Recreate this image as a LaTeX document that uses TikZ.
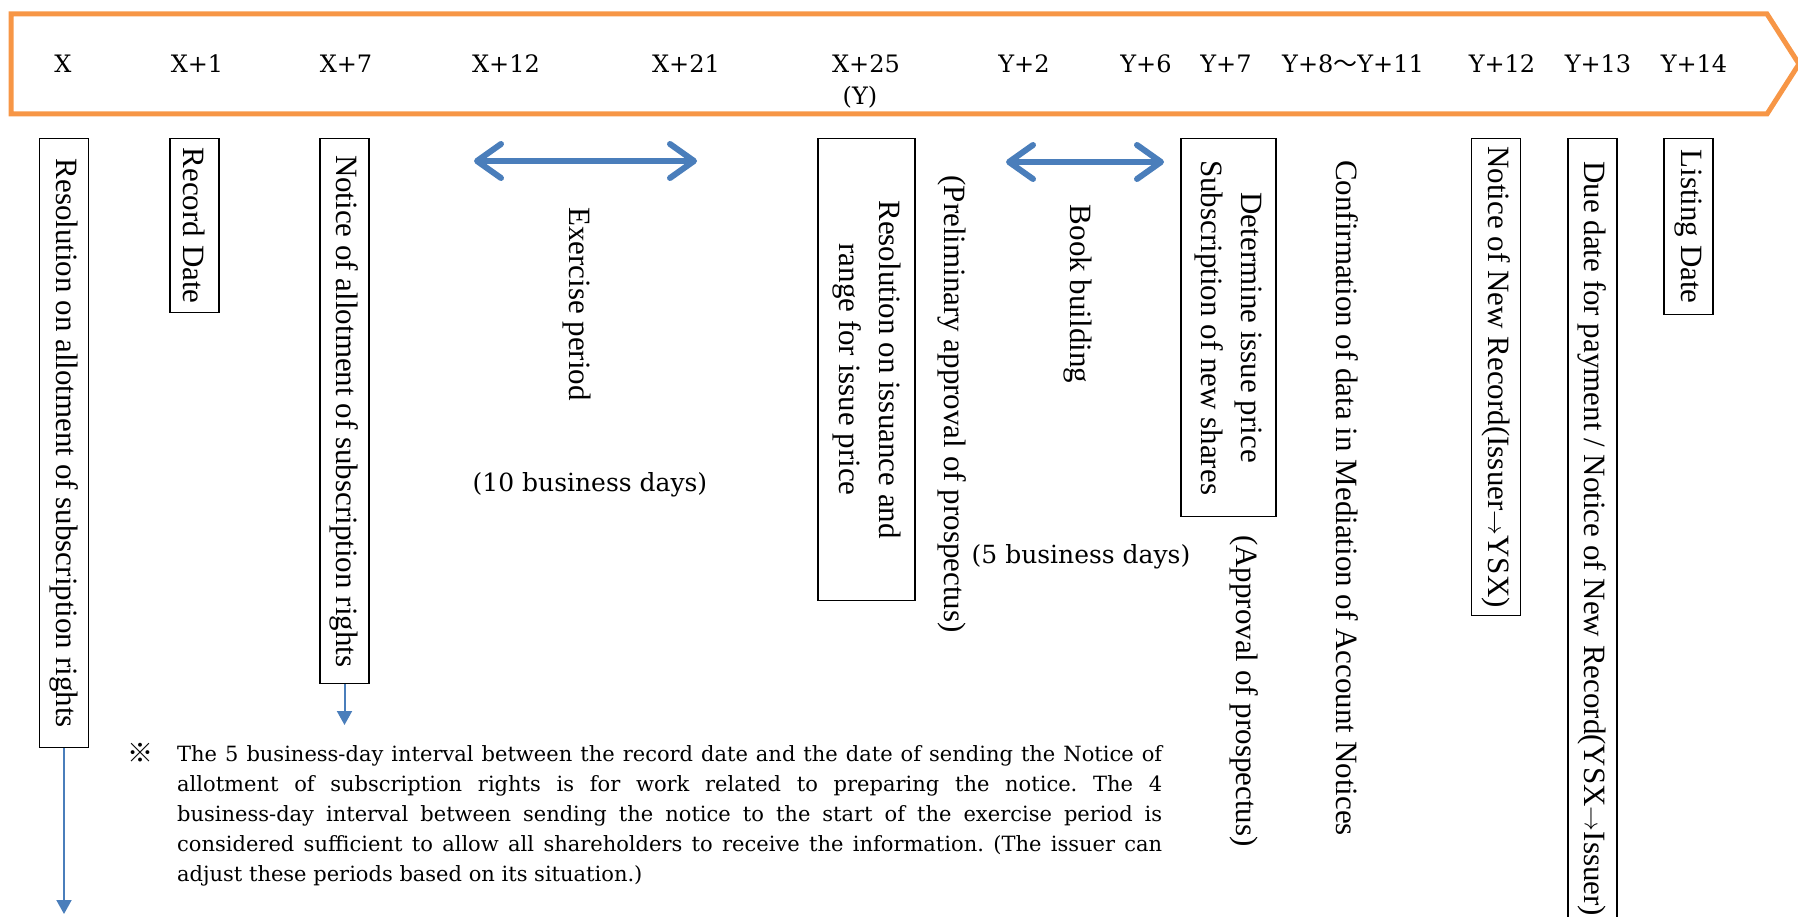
\documentclass[tikz,border=0pt]{standalone}
\usepackage{fontspec}
\setmainfont{Liberation Serif}
\newfontfamily\notefont{DejaVu Serif}
\newfontfamily\cjkfont{Noto Sans CJK JP}
\usepackage{xcolor}
\usetikzlibrary{arrows.meta}
\definecolor{bannerorange}{HTML}{F79646}
\definecolor{linkblue}{HTML}{4A7EBB}
\frenchspacing

\begin{document}
\begin{tikzpicture}[x=1pt, y=-1pt,
    daylabel/.style={font=\notefont\fontsize{24}{28}\selectfont, anchor=base, inner sep=0pt},
    vtext/.style={rotate=-90, font=\fontsize{31}{40}\selectfont, align=center, inner sep=0pt},
    vbox/.style={vtext, draw, line width=1.3pt, anchor=west, minimum height=49pt},
    period/.style={linkblue, line width=6pt, line cap=round,
        {Straight Barb[length=24pt,width=34pt,round]}-{Straight Barb[length=24pt,width=34pt,round]}},
    pointer/.style={linkblue, line width=2pt, -{Triangle[length=14pt,width=15pt]}},
    periodnote/.style={font=\notefont\fontsize{25}{30}\selectfont}]
    \useasboundingbox (0,0) rectangle (1798,917);
    \draw [bannerorange, line width=5pt] (11,14) -- (1767,14) -- (1799,64) -- (1767,114) -- (11,114) -- cycle;
    \foreach \pos/\day [count=\i] in {63/X, 197/X+1, 346/X+7, 506/X+12, 686/X+21, 866/X+25,
        1024/Y+2, 1146/Y+6, 1226/Y+7, 1353/{Y+8{\cjkfont ～}Y+11}, 1502/Y+12, 1598/Y+13, 1694/Y+14}
        \node [daylabel] (day\i) at (\pos,73) {\day};
    \node [daylabel] (ylabel) at (860,105) {(Y)};

    \node [vbox, minimum width=609pt] (allot) at (64,138) {Resolution on allotment of subscription rights};
    \node [vbox, minimum width=174pt] (record) at (194.5,138) {Record Date};
    \node [vbox, minimum width=545pt] (notice) at (344.5,138) {Notice of allotment of subscription rights};
    \node [vbox, minimum width=462pt, minimum height=97pt] (issuance) at (866.5,138) {Resolution on issuance and\\range for issue price};
    \node [vbox, minimum width=378pt, minimum height=95pt] (price) at (1228.5,138) {Determine issue price\\Subscription of new shares};
    \node [vbox, minimum width=477pt] (newrecord) at (1496,138) {Notice of New Record(Issuer$\rightarrow$YSX)};
    \node [vbox, minimum width=800pt] (payment) at (1592.5,138) {Due date for payment / Notice of New Record(YSX$\rightarrow$Issuer)};
    \node [vbox, minimum width=176pt] (listing) at (1688.5,138) {Listing Date};

    \node [vtext] (exercise) at (577,304) {Exercise period};
    \node [vtext] (prelim) at (952,404) {(Preliminary approval of prospectus)};
    \node [vtext] (book) at (1078,294) {Book building};
    \node [vtext] (approval) at (1244,691) {(Approval of prospectus)};
    \node [vtext] (confirm) at (1347,498) {Confirmation of data in Mediation of Account Notices};

    \node [periodnote] (tendays) at (590,485) {(10 business days)};
    \node [periodnote] (fivedays) at (1081,557) {(5 business days)};

    \coordinate (exstart) at (474,161);
    \coordinate (exend) at (697,161);
    \coordinate (bookstart) at (1006,162);
    \coordinate (bookend) at (1164,162);
    \draw [period] (exstart) -- (exend);
    \draw [period] (bookstart) -- (bookend);

    \coordinate (allotend) at (64,914);
    \coordinate (noticeend) at (344.5,725);
    \draw [pointer] (allot.east) -- (allotend);
    \draw [pointer] (notice.east) -- (noticeend);

    \node [font=\cjkfont\fontsize{26}{30}\selectfont, anchor=base, inner sep=0pt] (mark) at (140,762) {※};
    \node [font=\notefont\fontsize{21}{30}\selectfont, anchor=north west, align=left, inner sep=0pt] (footnote) at (177,745)
        {\makebox[985pt][s]{The 5 business-day interval between the record date and the date of sending the Notice of}\\
        \makebox[985pt][s]{allotment of subscription rights is for work related to preparing the notice. The 4}\\
        \makebox[985pt][s]{business-day interval between sending the notice to the start of the exercise period is}\\
        \makebox[985pt][s]{considered sufficient to allow all shareholders to receive the information. (The issuer can}\\
        adjust these periods based on its situation.)};
\end{tikzpicture}
\end{document}
